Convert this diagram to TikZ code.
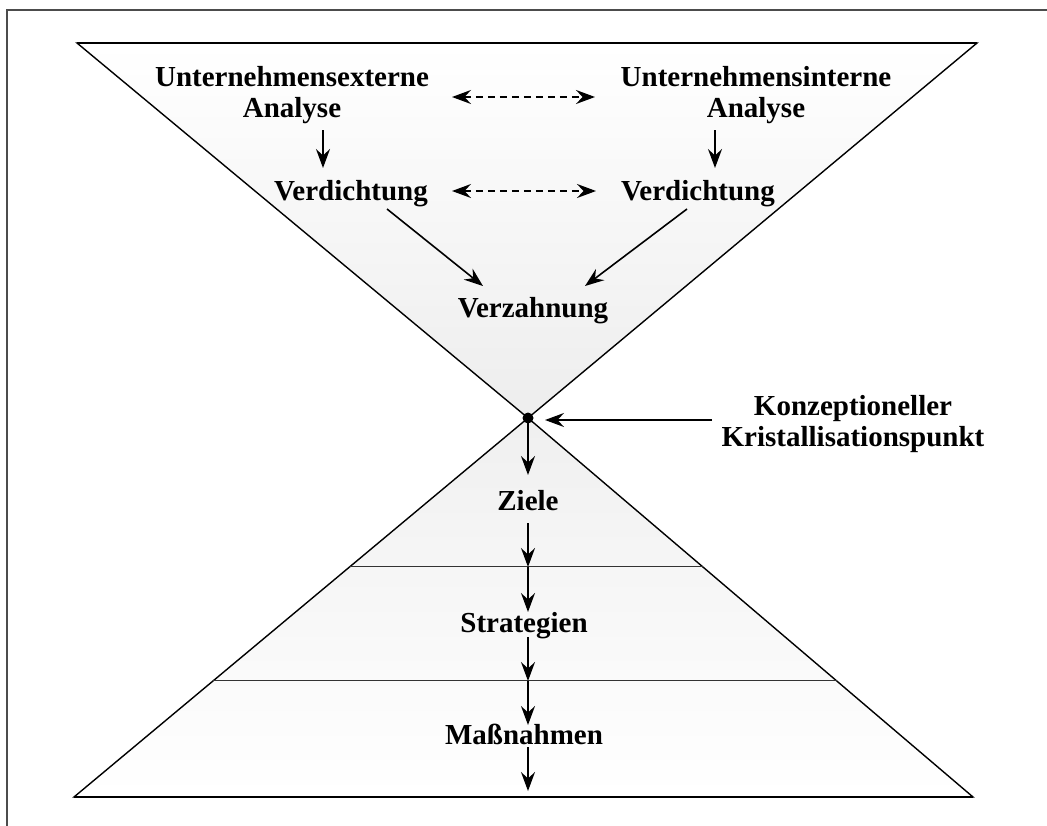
\documentclass[tikz,border=0pt]{standalone}
\usepackage{fontspec}
\setmainfont{Liberation Serif}
\usetikzlibrary{arrows.meta,calc}
\begin{document}
\begin{tikzpicture}[x=1pt,y=-1pt,
  lbl/.style={font=\bfseries\fontsize{29}{30.5}\selectfont, inner sep=0pt, align=center},
  tip/.tip={Stealth[length=19pt,width=14pt,inset=6.5pt]},
  arr/.style={line width=1.6pt, -tip},
  darr/.style={line width=1.7pt, dash pattern=on 7.5pt off 4.5pt, tip-tip},
  outline/.style={line width=1.4pt, draw=black},
  divider/.style={line width=1pt, draw=black!80}]
\useasboundingbox (0,0) rectangle (1047,825);
\begin{scope}
  \clip (0,0) rectangle (1047,825);
  \draw[line width=2pt, black!70] (7,10) rectangle (1070,850);
\end{scope}

% top funnel
\path[outline, top color=white, middle color=black!21, bottom color=black!7]
  (77,43) -- (977,43) -- (528,418) -- cycle;
% bottom pyramid
\coordinate (apex) at (528,418);
\coordinate (bl) at (74,797);
\coordinate (br) at (973,797);
\path[outline, top color=black!6, middle color=black!20, bottom color=white]
  (apex) -- (br) -- (bl) -- cycle;
\coordinate (l1a) at ($(apex)!0.3931!(bl)$);
\coordinate (l1b) at ($(apex)!0.3931!(br)$);
\coordinate (l2a) at ($(apex)!0.6939!(bl)$);
\coordinate (l2b) at ($(apex)!0.6939!(br)$);
\draw[divider] (l1a) -- (l1b);
\draw[divider] (l2a) -- (l2b);
\draw[line width=2pt] (bl) -- (br);
\draw[line width=2pt] (77,43) -- (977,43);

% labels
\node[lbl] (ext) at (292,95) {Unternehmensexterne\\Analyse};
\node[lbl] (int) at (756,95) {Unternehmensinterne\\Analyse};
\node[lbl, anchor=base] (verdL) at (351,200) {Verdichtung};
\node[lbl, anchor=base] (verdR) at (698,200) {Verdichtung};
\node[lbl, anchor=base] (verz) at (533,317) {Verzahnung};
\node[lbl] (kp) at (853,424) {Konzeptioneller\\Kristallisationspunkt};
\node[lbl, anchor=base] (ziele) at (528,510) {Ziele};
\node[lbl, anchor=base] (strat) at (524,632) {Strategien};
\node[lbl, anchor=base] (mass) at (524,744) {Maßnahmen};

% dot
\fill (apex) circle (5.5);

% connector coordinates
\coordinate (a1s) at (323,130); \coordinate (a1e) at (323,168);
\coordinate (a2s) at (715,130); \coordinate (a2e) at (715,168);
\coordinate (d1s) at (452,97);  \coordinate (d1e) at (595,97);
\coordinate (d2s) at (452,191); \coordinate (d2e) at (596,191);
\coordinate (g1s) at (387,209); \coordinate (g1e) at (483,286);
\coordinate (g2s) at (687,209); \coordinate (g2e) at (585,286);
\coordinate (kps) at (712,420); \coordinate (kpe) at (545,420);
\coordinate (z1) at (528,475);
\coordinate (z2) at (528,523); \coordinate (z3) at (528,567);
\coordinate (z4) at (528,612);
\coordinate (z5) at (528,637); \coordinate (z6) at (528,681);
\coordinate (z7) at (528,725);
\coordinate (z8) at (528,747); \coordinate (z9) at (528,791);

\draw[arr] (a1s) -- (a1e);
\draw[arr] (a2s) -- (a2e);
\draw[darr] (d1s) -- (d1e);
\draw[darr] (d2s) -- (d2e);
\draw[arr] (g1s) -- (g1e);
\draw[arr] (g2s) -- (g2e);
\draw[arr] (kps) -- (kpe);
\draw[arr] (apex) -- (z1);
\draw[arr] (z2) -- (z3);
\draw[arr] (z3) -- (z4);
\draw[arr] (z5) -- (z6);
\draw[arr] (z6) -- (z7);
\draw[arr] (z8) -- (z9);
\end{tikzpicture}
\end{document}
